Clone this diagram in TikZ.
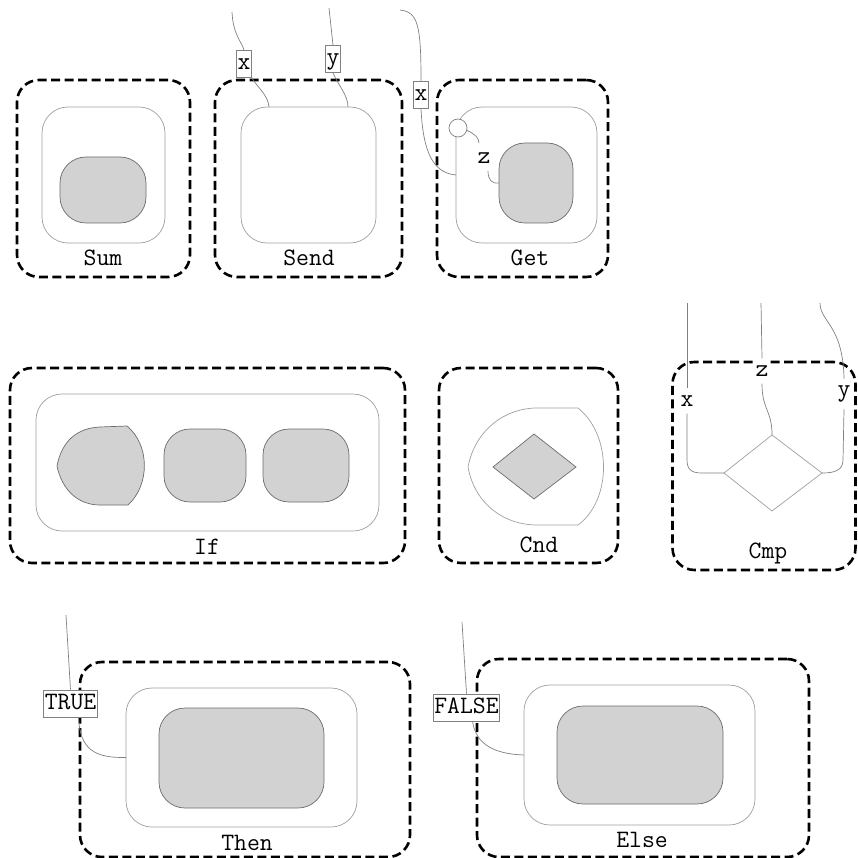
\documentclass[tikz,border=0pt]{standalone}
\usepackage{tikz}
\usetikzlibrary{positioning,calc}

\tikzset{
  frame/.style={draw,line width=2.6pt,dash pattern=on 9pt off 4.5pt,
    rounded corners=22pt,inner sep=0pt,outer sep=0pt},
  blob/.style={rounded corners=26pt,inner sep=0pt,outer sep=0pt},
  body/.style={draw=gray!75,line width=0.7pt},
  core/.style={draw=gray!85!black,fill=gray!35,line width=0.7pt},
  wire/.style={draw=gray,line width=0.7pt},
  tag/.style={draw=gray,fill=white,line width=0.6pt,inner xsep=1pt,
    inner ysep=2.5pt,text height=17pt,text depth=5pt},
  lbl/.style={fill=white,inner xsep=1pt,inner ysep=7pt},
  port/.style={circle,draw=gray,fill=white,line width=0.7pt,
    minimum size=18pt,inner sep=0pt}
}

\begin{document}
\begin{tikzpicture}[x=1pt,y=-1pt,font=\ttfamily\fontsize{25}{28}\selectfont]
  \useasboundingbox (0,0) rectangle (858,858);

  % Sum
  \node[frame,minimum width=173pt,minimum height=197pt] (sumF) at (103.5,178.5) {};
  \node[body,blob,minimum width=123pt,minimum height=136pt] (sumB) at (103.5,175) {};
  \node[core,blob,minimum width=86pt,minimum height=66pt] (sumC) at (103,190) {};
  \node (sumL) at (103,258) {Sum};

  % Send
  \node[frame,minimum width=187pt,minimum height=197pt] (sendF) at (308.5,178.5) {};
  \node[body,blob,minimum width=135pt,minimum height=136pt] (sendB) at (308.5,175) {};
  \node (sendL) at (309,258) {Send};
  \coordinate (sendXtop) at (232,12);
  \coordinate (sendYtop) at (329,8);
  \coordinate (sendXin) at (269,107);
  \coordinate (sendYin) at (348,107);
  \node[tag] (sendX) at (244,64) {x};
  \node[tag] (sendY) at (333,59) {y};
  \draw[wire] (sendXtop) .. controls (233,35) and (242,42) .. (sendX.north);
  \draw[wire] (sendX.south east) .. controls (258,88) and (268,95) .. (sendXin);
  \draw[wire] (sendYtop) -- (sendY.north);
  \draw[wire] (sendY.south) .. controls (338,85) and (348,95) .. (sendYin);

  % Get
  \node[frame,minimum width=171pt,minimum height=197pt] (getF) at (522.5,178.5) {};
  \node[body,blob,minimum width=141pt,minimum height=136pt] (getB) at (526.5,175) {};
  \node[core,blob,minimum width=74pt,minimum height=80pt] (getC) at (536,183) {};
  \node (getL) at (530,258) {Get};
  \node[port] (getP) at (458,128) {};
  \coordinate (getXtop) at (400,10);
  \coordinate (getXin) at (456,175);
  \coordinate (getZa) at (479,143);
  \coordinate (getZb) at (488,171);
  \node[tag] (getX) at (421,95) {x};
  \node (getZ) at (484,158) {z};
  \draw[wire] (getXtop) .. controls (418,12) and (421,25) .. (getX.north);
  \draw[wire] (getX.south) .. controls (423,150) and (432,173) .. (getXin);
  \draw[wire] (getP.-15) .. controls (475,134) and (479,138) .. (getZa);
  \draw[wire] (getZb) .. controls (488,180) and (492,184) .. (getC.west);

  % If
  \node[frame,minimum width=395pt,minimum height=195pt] (ifF) at (207.5,465.5) {};
  \node[body,blob,minimum width=343pt,minimum height=137pt] (ifB) at (207.5,462.5) {};
  \draw[core] (57,466) .. controls (62,440) and (78,428) .. (100,427) -- (127,426)
    .. controls (150,445) and (150,485) .. (128,505) -- (100,505)
    .. controls (78,505) and (62,490) .. cycle;
  \node[core,blob,minimum width=82pt,minimum height=73pt] (ifC2) at (205,465.5) {};
  \node[core,blob,minimum width=86pt,minimum height=73pt] (ifC3) at (306,465.5) {};
  \node (ifL) at (207,547) {If};

  % Cnd
  \node[frame,minimum width=179pt,minimum height=195pt] (cndF) at (528.5,465.5) {};
  \draw[body] (468,467) .. controls (475,430) and (505,408) .. (537,408) -- (578,408)
    .. controls (612,435) and (612,500) .. (578,525) -- (537,525)
    .. controls (505,525) and (475,505) .. cycle;
  \draw[core] (493,467) -- (534,434) -- (576,467) -- (534,499) -- cycle;
  \node (cndL) at (539,545) {Cnd};

  % Cmp
  \node[frame,minimum width=183pt,minimum height=208pt] (cmpF) at (764,466) {};
  \coordinate (cmpTp) at (772,435);
  \coordinate (cmpLf) at (724,473);
  \coordinate (cmpRt) at (822,473);
  \coordinate (cmpBt) at (772,511);
  \draw[body] (cmpTp) -- (cmpRt) -- (cmpBt) -- (cmpLf) -- cycle;
  \node (cmpL) at (768,553) {Cmp};
  \coordinate (cmpXtop) at (687,303);
  \coordinate (cmpZtop) at (761,303);
  \coordinate (cmpYtop) at (820,303);
  \node[lbl] (cmpX) at (687,401) {x};
  \node[lbl] (cmpZ) at (762,371) {z};
  \node[lbl] (cmpY) at (844,394) {y};
  \draw[wire] (cmpXtop) -- (cmpX.north);
  \draw[wire] (cmpX.south) -- (687,460) .. controls (687,470) and (692,473) .. (702,473) -- (cmpLf);
  \draw[wire] (cmpZtop) -- (cmpZ.north);
  \draw[wire] (cmpZ.south) .. controls (762,410) and (772,410) .. (cmpTp);
  \draw[wire] (cmpYtop) .. controls (820,322) and (843,325) .. (cmpY.north);
  \draw[wire] (cmpY.south) -- (843,460) .. controls (843,470) and (835,473) .. (cmpRt);

  % Then
  \node[frame,minimum width=330pt,minimum height=195pt] (thenF) at (245,759.5) {};
  \node[body,blob,minimum width=231pt,minimum height=139pt] (thenB) at (241.5,757.5) {};
  \node[core,blob,minimum width=165pt,minimum height=100pt] (thenC) at (241.5,758) {};
  \node (thenL) at (247,843) {Then};
  \coordinate (thenTop) at (66,615);
  \node[tag] (thenT) at (70.5,703.5) {TRUE};
  \draw[wire] (thenTop) -- (thenT.north);
  \draw[wire] ([xshift=8pt]thenT.south) .. controls (80,750) and (95,758) .. (thenB.west);

  % Else
  \node[frame,minimum width=332pt,minimum height=198pt] (elseF) at (643,758) {};
  \node[body,blob,minimum width=231pt,minimum height=140pt] (elseB) at (639.5,755) {};
  \node[core,blob,minimum width=166pt,minimum height=98pt] (elseC) at (640,755) {};
  \node (elseL) at (642,840) {Else};
  \coordinate (elseTop) at (462,622);
  \node[tag] (elseT) at (466.5,707.5) {FALSE};
  \draw[wire] (elseTop) -- (elseT.north);
  \draw[wire] ([xshift=6pt]elseT.south) .. controls (476,745) and (495,754) .. (elseB.west);
\end{tikzpicture}
\end{document}
